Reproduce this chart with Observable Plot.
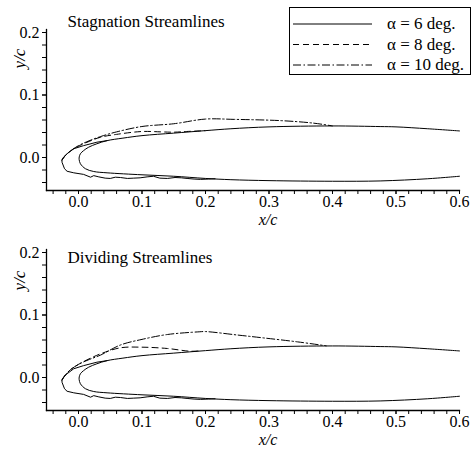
<!DOCTYPE html>
<html><head><meta charset="utf-8">
<script src="https://cdn.jsdelivr.net/npm/d3@7"></script>
<script src="https://cdn.jsdelivr.net/npm/@observablehq/plot@0.6"></script>
<style>
body{margin:0;background:#fff;}
#wrap{position:relative;width:471px;height:449px;font-family:"Liberation Serif","Times New Roman",serif;}
#wrap svg{display:block}
#legend{position:absolute;left:289px;top:7px;}
</style></head><body><div id="wrap"><div id="panels"></div><div id="legend"></div></div>
<script>
// ---- data (x/c, y/c) ----
const panelTitles = ["Stagnation Streamlines", "Dividing Streamlines"];
const legendLabels = ["\u03b1 = 6 deg.", "\u03b1 = 8 deg.", "\u03b1 = 10 deg."];
const xMajorTicks = [0.0, 0.1, 0.2, 0.3, 0.4, 0.5, 0.6];
const xMinorTicks = [-0.04,-0.02,0,0.02,0.04,0.06,0.08,0.1,0.12,0.14,0.16,0.18,0.2,0.22,0.24,0.26,0.28,0.3,0.32,0.34,0.36,0.38,0.4,0.42,0.44,0.46,0.48,0.5,0.52,0.54,0.56,0.58,0.6];
const yMajorTicks = [0.0, 0.1, 0.2];
const yMinorTicks = [-0.04,-0.02,0,0.02,0.04,0.06,0.08,0.1,0.12,0.14,0.16,0.18,0.2];

const airfoilX = [0.6,0.55,0.5,0.475,0.4,0.3,0.24,0.2,0.15,0.1,0.07,0.045,0.029,0.016,0.008,0.003,0.0012,0.001,0.003,0.011,0.024,0.045,0.1,0.15,0.2,0.24,0.3,0.4,0.475,0.55,0.6];
const airfoilY = [0.0425,0.046,0.049,0.0495,0.0505,0.049,0.046,0.043,0.039,0.035,0.031,0.027,0.022,0.0165,0.011,0.006,0.001,-0.003,-0.010,-0.018,-0.0224,-0.0245,-0.0277,-0.030,-0.0335,-0.0355,-0.037,-0.038,-0.0375,-0.034,-0.030];

const alpha6X = [0.045,0.029,0.008,-0.0075,-0.018,-0.024,-0.026,-0.026,-0.022,-0.018,-0.0075,0.008,0.019,0.024,0.032,0.042,0.05,0.058,0.066,0.077,0.087,0.097,0.108,0.118,0.128,0.14,0.152,0.162,0.171,0.182,0.192,0.205,0.215];
const alpha6Y = [0.027,0.0245,0.019,0.014,0.006,0.0,-0.004,-0.0075,-0.018,-0.022,-0.0245,-0.027,-0.0315,-0.029,-0.031,-0.033,-0.0335,-0.0315,-0.032,-0.0335,-0.033,-0.0325,-0.031,-0.030,-0.033,-0.0335,-0.032,-0.0325,-0.0335,-0.0345,-0.035,-0.0345,-0.034];

const stag8X = [-0.026,-0.02,-0.012,0.0,0.015,0.035,0.06,0.1,0.13,0.15,0.17,0.19,0.2];
const stag8Y = [-0.004,0.004,0.011,0.018,0.025,0.0325,0.037,0.0416,0.041,0.0405,0.0416,0.0425,0.043];
const stag10X = [-0.026,-0.02,-0.012,0.0,0.015,0.035,0.06,0.1,0.15,0.2,0.245,0.318,0.37,0.4];
const stag10Y = [-0.004,0.004,0.011,0.019,0.026,0.0336,0.041,0.0496,0.054,0.0615,0.061,0.059,0.055,0.0505];

const div8X = [-0.026,-0.02,-0.012,0.0,0.015,0.035,0.066,0.1,0.14,0.176,0.19];
const div8Y = [-0.004,0.005,0.013,0.021,0.029,0.038,0.0475,0.0485,0.0464,0.042,0.0425];
const div10X = [-0.026,-0.02,-0.012,0.0,0.015,0.035,0.066,0.1,0.14,0.19,0.2,0.25,0.29,0.345,0.39];
const div10Y = [-0.004,0.005,0.013,0.021,0.028,0.036,0.052,0.061,0.0688,0.0731,0.0735,0.068,0.0635,0.057,0.0507];

// ---- drawing ----
const zip = (xs, ys) => xs.map((x, i) => ({x, y: ys[i]}));
const DASH = "6,4";
const DASHDOT = "8,2.5,1.5,2.5";
const font = "'Liberation Serif','Times New Roman',serif";

// off: vertical pixel shift of the panel frame inside its svg
function panel(title, titleDy, yLabDy, h, off, s8, s10) {
  const ax = {fontFamily: font, fontSize: 16, label: null, stroke: "#000"};
  const bottom = 190 + off;
  return Plot.plot({
    width: 471, height: h,
    marginLeft: 46, marginRight: 12, marginTop: 29 + off, marginBottom: h - bottom,
    x: {domain: [-0.04, 0.6], range: [52.6, 459]},
    y: {domain: [-0.04, 0.2], range: [182 + off, 32 + off]},
    style: {fontFamily: font, fontSize: "16px", color: "#000"},
    marks: [
      Plot.axisX({...ax, ticks: xMinorTicks, tickSize: 4, tickFormat: () => ""}),
      Plot.axisX({...ax, ticks: xMajorTicks, tickSize: 4, tickPadding: 1, tickFormat: d => d.toFixed(1)}),
      Plot.axisY({...ax, ticks: yMinorTicks, tickSize: 4, tickFormat: () => ""}),
      Plot.axisY({...ax, ticks: yMajorTicks, tickSize: 4, tickPadding: 3, tickFormat: d => d.toFixed(1)}),
      Plot.frame({anchor: "left", strokeWidth: 1.3}),
      Plot.frame({anchor: "bottom", strokeWidth: 1.3}),
      Plot.line(zip(airfoilX, airfoilY), {x: "x", y: "y", stroke: "#000", strokeWidth: 1, curve: "catmull-rom"}),
      Plot.line(zip(alpha6X, alpha6Y), {x: "x", y: "y", stroke: "#000", strokeWidth: 1}),
      Plot.line(s8, {x: "x", y: "y", stroke: "#000", strokeWidth: 1, strokeDasharray: DASH, curve: "catmull-rom"}),
      Plot.line(s10, {x: "x", y: "y", stroke: "#000", strokeWidth: 1, strokeDasharray: DASHDOT, curve: "catmull-rom"}),
      Plot.text([title], {frameAnchor: "top-left", dx: 21, dy: titleDy, textAnchor: "start", lineAnchor: "bottom", fontSize: 17, fontFamily: font}),
      Plot.text(["y/c"], {frameAnchor: "top-left", dx: -27, dy: yLabDy, rotate: -90, textAnchor: "middle", lineAnchor: "middle", fontSize: 17, fontStyle: "italic", fontFamily: font}),
      Plot.text(["x/c"], {frameAnchor: "bottom", dx: 15, dy: 23, textAnchor: "middle", lineAnchor: "top", fontSize: 16, fontStyle: "italic", fontFamily: font})
    ]
  });
}

const panels = document.getElementById("panels");
panels.append(panel(panelTitles[0], -3, 29, 229, 0, zip(stag8X, stag8Y), zip(stag10X, stag10Y)));
panels.append(panel(panelTitles[1], 13, 31, 220, -9, zip(div8X, div8Y), zip(div10X, div10Y)));

// legend box (top panel)
const dashes = [null, DASH, DASHDOT];
const lg = d3.select("#legend").append("svg").attr("width", 182).attr("height", 68);
lg.append("rect").attr("x", 0.5).attr("y", 0.5).attr("width", 181).attr("height", 67)
  .attr("fill", "#fff").attr("stroke", "#000").attr("stroke-width", 1);
legendLabels.forEach((t, i) => {
  const yy = 17 + i * 20.5;
  lg.append("line").attr("x1", 4).attr("x2", 83).attr("y1", yy).attr("y2", yy)
    .attr("stroke", "#000").attr("stroke-width", 1).attr("stroke-dasharray", dashes[i]);
  lg.append("text").attr("x", 98).attr("y", yy).attr("dy", "0.32em")
    .attr("font-family", font).attr("font-size", 17).text(t);
});
</script>
</body></html>
